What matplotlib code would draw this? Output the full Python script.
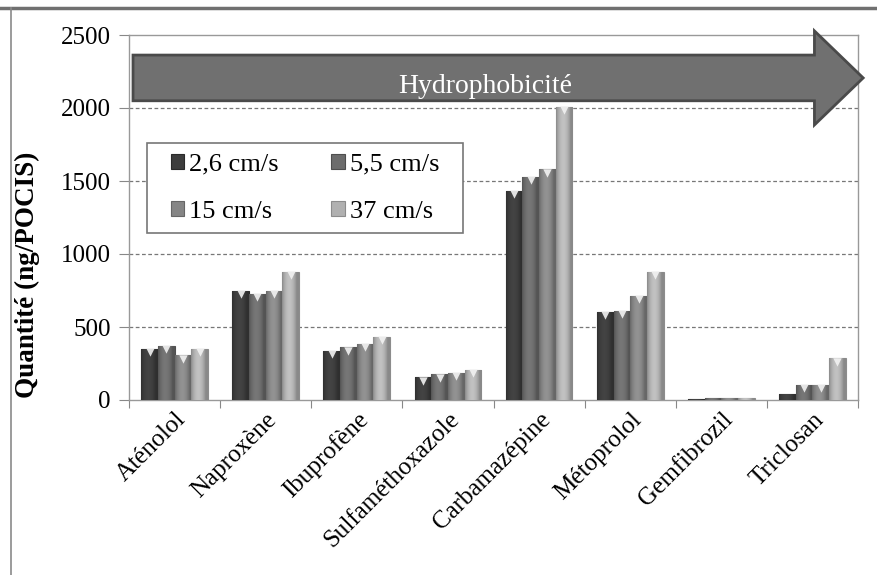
import numpy as np
import matplotlib.pyplot as plt
from matplotlib.patches import FancyArrow, Rectangle
from matplotlib.lines import Line2D
from matplotlib.colors import to_rgb

plt.rcParams['font.family'] = ['Liberation Serif', 'DejaVu Serif']

compounds = ['Aténolol', 'Naproxène', 'Ibuprofène', 'Sulfaméthoxazole',
             'Carbamazépine', 'Métoprolol', 'Gemfibrozil', 'Triclosan']
speeds = ['2,6 cm/s', '5,5 cm/s', '15 cm/s', '37 cm/s']
v_2_6 = [350, 745, 335, 155, 1430, 605, 8, 40]
v_5_5 = [370, 725, 360, 175, 1530, 610, 12, 105]
v_15 = [305, 745, 385, 185, 1580, 715, 14, 105]
v_37 = [350, 875, 430, 205, 2010, 875, 15, 285]
series = [v_2_6, v_5_5, v_15, v_37]

colors = ['#3d3d3d', '#6c6c6c', '#858585', '#b0b0b0']
edges = ['#2a2a2a', '#4e4e4e', '#666666', '#8c8c8c']

fig = plt.figure(figsize=(8.77, 5.75), dpi=100)
ax = fig.add_axes([129/877, 1 - 400/575, (858-129)/877, (400-35)/575])

x = np.arange(len(compounds))
w = 0.183
t = np.linspace(0, 1, 40)
shade = 0.78 + 0.32 * np.sin(np.pi * np.clip(t * 1.15, 0, 1)) ** 0.8
handles = []
for i, vals in enumerate(series):
    xs = x + (i - 1.5) * w
    bars = ax.bar(xs, vals, width=w, color=colors[i], edgecolor=edges[i],
                  linewidth=0.8, label=speeds[i], zorder=3)
    handles.append(bars)
    # cylinder-like shading across each bar
    base = np.array(to_rgb(colors[i]))
    grad = np.clip(base[None, None, :] * shade[None, :, None], 0, 1)
    for p in bars.patches:
        x0, y0 = p.get_x(), p.get_y()
        im = ax.imshow(grad, extent=[x0, x0 + p.get_width(), y0, y0 + p.get_height()],
                       aspect='auto', interpolation='bilinear', zorder=3.5)
        im.set_clip_path(p)
    big = np.array(vals) > 60
    ax.scatter(xs[big], np.array(vals)[big] - 22, marker='v', s=36,
               color='#f2f2f2', alpha=0.9, linewidths=0, zorder=4)

ax.set_xlim(-0.5, 7.5)
ax.set_ylim(0, 2500)
ax.set_yticks([0, 500, 1000, 1500, 2000, 2500])
ax.set_xticks(np.arange(-0.5, 8, 1))
ax.set_xticklabels([])
ax.set_xticks(x, minor=True)
ax.set_xticklabels(compounds, minor=True, rotation=45, ha='right',
                   rotation_mode='anchor', fontsize=18)
ax.tick_params(axis='x', which='minor', length=0, pad=6)
ax.tick_params(axis='x', which='major', length=6, color='#888888')
ax.tick_params(axis='y', length=7, color='#888888', labelsize=18, pad=6)

for g in [500, 1000, 1500, 2000]:
    ax.axhline(g, color='#777777', lw=0.9, ls=(0, (3, 2)), zorder=1)
for s in ax.spines.values():
    s.set_color('#999999')
    s.set_linewidth(1)

ax.set_ylabel('Quantité (ng/POCIS)', fontsize=19.5, fontweight='bold')
ax.yaxis.set_label_coords(-0.122, 0.342)

# hydrophobicity arrow
arrow = FancyArrow(-0.456, 2206, 8.013, 0, width=313, head_width=644,
                   head_length=0.535, length_includes_head=True,
                   facecolor='#707070', edgecolor='#4a4a4a', linewidth=2,
                   clip_on=False, zorder=5)
ax.add_patch(arrow)
ax.text(3.41, 2150, 'Hydrophobicité', color='white', fontsize=20,
        ha='center', va='center', zorder=6)

# legend laid out row by row inside a plain box
box = (147/877, 1 - 233/575, (463-147)/877, (233-143)/575)
ax.add_patch(Rectangle(box[:2], box[2], box[3], transform=fig.transFigure,
                       facecolor='white', edgecolor='#777777', lw=1.2,
                       clip_on=False, zorder=6))
order = [0, 2, 1, 3]
leg = ax.legend([handles[k] for k in order], [speeds[k] for k in order],
                ncol=2, loc='center', bbox_to_anchor=box,
                bbox_transform=fig.transFigure, borderaxespad=0, fontsize=19,
                frameon=False, handlelength=0.5, handleheight=0.5,
                handletextpad=0.2, columnspacing=2.0, labelspacing=0.95)
leg.set_zorder(7)

# outer frame lines
fig.add_artist(Line2D([0, 1], [1 - 8/575, 1 - 8/575], color='#707070', lw=2.5,
                      transform=fig.transFigure))
fig.add_artist(Line2D([11/877, 11/877], [0, 1 - 8/575], color='#8a8a8a', lw=1.2,
                      transform=fig.transFigure))

fig.savefig('out.png', dpi=100)
